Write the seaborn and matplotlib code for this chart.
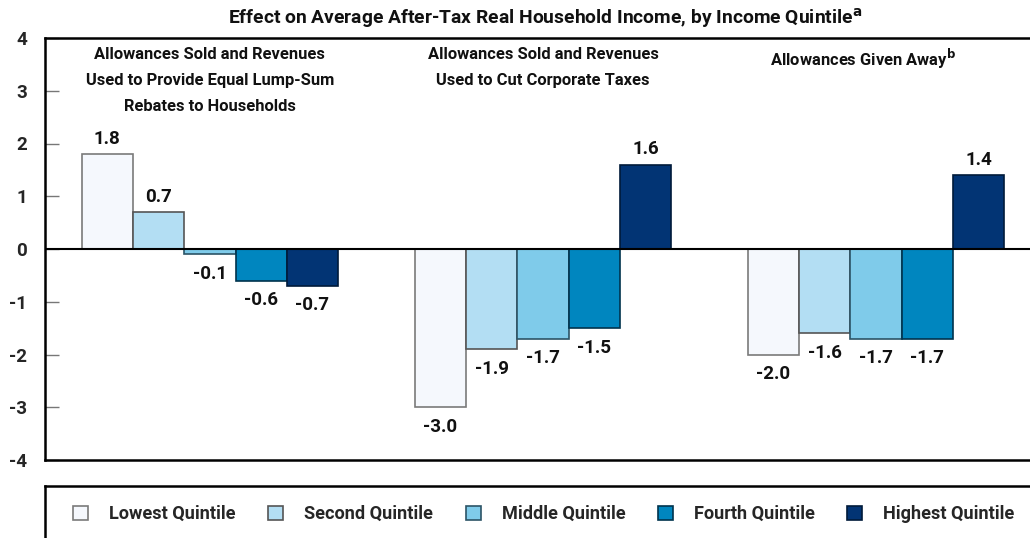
import matplotlib
matplotlib.use("Agg")
import matplotlib.pyplot as plt
import seaborn as sns
import pandas as pd
from matplotlib.patches import Patch

scenarios = ["Allowances Sold and Revenues\nUsed to Provide Equal Lump-Sum\nRebates to Households",
             "Allowances Sold and Revenues\nUsed to Cut Corporate Taxes",
             "Allowances Given Away$^{\\mathbf{b}}$"]
quintiles = ["Lowest Quintile", "Second Quintile", "Middle Quintile", "Fourth Quintile", "Highest Quintile"]
lowest = [1.8, -3.0, -2.0]
second = [0.7, -1.9, -1.6]
middle = [-0.1, -1.7, -1.7]
fourth = [-0.6, -1.5, -1.7]
highest = [-0.7, 1.6, 1.4]
yticks = [4, 3, 2, 1, 0, -1, -2, -3, -4]

fills = ["#F5F8FD", "#B3DEF3", "#7FCBEA", "#0086BF", "#023474"]
edges = ["#7a7a7a", "#555555", "#2c5466", "#00334d", "#001a3a"]

sns.set_theme(style="white")
plt.rcParams['font.family'] = ['Roboto', 'DejaVu Sans']
plt.rcParams['font.weight'] = 'bold'
plt.rcParams['mathtext.fontset'] = 'dejavusans'

rows = []
for q, vals in zip(quintiles, [lowest, second, middle, fourth, highest]):
    for i, v in enumerate(vals):
        rows.append({"scenario": i, "quintile": q, "value": v})
df = pd.DataFrame(rows)

fig = plt.figure(figsize=(10.3, 5.38), dpi=100)
ax = fig.add_axes([45/1030, 1-460/538, 1-45/1030, (460-38)/538])
sns.barplot(data=df, x="scenario", y="value", hue="quintile", hue_order=quintiles,
            palette=fills, width=0.77, ax=ax, legend=False, saturation=1)

for qi, cont in enumerate(ax.containers):
    for bar in cont:
        bar.set_edgecolor(edges[qi])
        bar.set_linewidth(1.2)
    for bar in cont:
        h = bar.get_height()
        x = bar.get_x() + bar.get_width()/2
        off = 11 if h >= 0 else -14
        ax.annotate(f"{h:.1f}", (x, h), xytext=(0, off), textcoords="offset points",
                    ha="center", va="center", fontsize=13.5, fontweight="bold", color="#111111")

ax.axhline(0, color="black", lw=1.5, zorder=5)
ax.set_ylim(-4, 4)
ax.set_xlim(-0.495, 2.462)
ax.set_yticks(yticks)
ax.set_yticklabels([str(t) for t in yticks], fontsize=13.5, fontweight="bold")
ax.tick_params(axis="y", direction="in", length=10, width=1, color="#777777", pad=13, left=True)
ax.set_xticks([])
ax.set_xlabel("")
ax.set_ylabel("")
for s in ["left", "top", "bottom"]:
    ax.spines[s].set_visible(True)
    ax.spines[s].set_color("black")
    ax.spines[s].set_linewidth(1.8)
ax.spines["right"].set_visible(False)

ax.text(0, 3.83, scenarios[0], ha="center", va="top", fontsize=11.9, fontweight="bold",
        linespacing=1.9, color="#111111")
ax.text(1.0, 3.83, scenarios[1], ha="center", va="top", fontsize=11.9, fontweight="bold",
        linespacing=1.9, color="#111111")
ax.text(1.96, 3.83, scenarios[2], ha="center", va="top", fontsize=11.9, fontweight="bold",
        color="#111111")

fig.text(545/1030, 1-18/538, "Effect on Average After-Tax Real Household Income, by Income Quintile$^{\\mathbf{a}}$",
         ha="center", va="center", fontsize=13.9, fontweight="bold", color="#111111")

# legend box
lax = fig.add_axes([45/1030, 0, 1-45/1030, (538-486)/538])
lax.set_xticks([]); lax.set_yticks([])
for s in ["left", "top"]:
    lax.spines[s].set_color("black"); lax.spines[s].set_linewidth(1.8)
for s in ["right", "bottom"]:
    lax.spines[s].set_visible(False)
handles = [Patch(facecolor=f, edgecolor=e, linewidth=1.2) for f, e in zip(fills, edges)]
leg = lax.legend(handles, quintiles, ncol=5, loc="center left", bbox_to_anchor=(0.012, 0.46),
                 frameon=False, handlelength=0.82, handleheight=0.82, columnspacing=1.8,
                 handletextpad=1.15, prop={"weight": "bold", "size": 13.1})

fig.savefig("out.png", dpi=100)
